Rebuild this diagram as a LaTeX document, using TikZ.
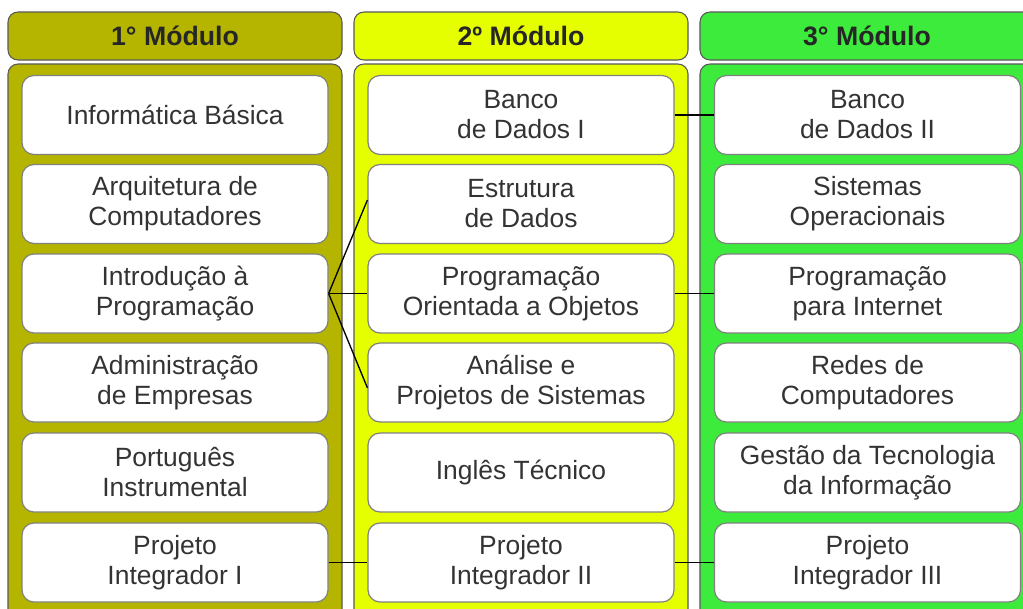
\documentclass[tikz,border=0pt]{standalone}
\usepackage{fontspec}
\setmainfont{Liberation Sans}
\usetikzlibrary{positioning}
\definecolor{modone}{RGB}{181,181,0}
\definecolor{modtwo}{RGB}{230,255,0}
\definecolor{modthree}{RGB}{60,235,60}

\begin{document}
\begin{tikzpicture}[x=0.75pt, y=-0.75pt,
    panel/.style={draw=black!65, line width=0.8pt, rounded corners=7.5pt},
    head/.style={panel, minimum width=250.5pt, minimum height=36pt, inner sep=0pt,
        font=\fontsize{20}{23}\selectfont\bfseries, text=black!85},
    subj/.style={draw=black!50, fill=white, line width=0.9pt, rounded corners=9pt,
        minimum width=229.5pt, minimum height=59.25pt, inner sep=0pt, align=center,
        font=\fontsize{19.8}{22.5}\selectfont, text=black!80},
    link/.style={line width=1pt}
]
\clip (0,0) rectangle (1023,608);
\fill[white] (0,0) rectangle (1023,608);

% 1st module
\node[head, fill=modone] (h1) at (175, 36) {1° Módulo};
\draw[panel, fill=modone] (8, 64) rectangle (342, 640);

\node[subj] (info) at (175, 115) {Informática Básica};
\node[subj] (arq) at (175, 204) {Arquitetura de\\Computadores};
\node[subj] (intro) at (175, 293.5) {Introdução à\\Programação};
\node[subj] (adm) at (175, 382.5) {Administração\\de Empresas};
\node[subj] (port) at (175, 472.5) {Português\\Instrumental};
\node[subj] (pi1) at (175, 562.5) {Projeto\\Integrador I};

% 2nd module
\node[head, fill=modtwo] (h2) at (521, 36) {2º Módulo};
\draw[panel, fill=modtwo] (354, 64) rectangle (688, 640);

\node[subj] (bd1) at (521, 115) {Banco\\de Dados I};
\node[subj] (est) at (521, 204) {Estrutura\\de Dados};
\node[subj] (poo) at (521, 293.5) {Programação\\Orientada a Objetos};
\node[subj] (aps) at (521, 382.5) {Análise e\\Projetos de Sistemas};
\node[subj] (ingl) at (521, 472.5) {Inglês Técnico};
\node[subj] (pi2) at (521, 562.5) {Projeto\\Integrador II};

% 3rd module
\node[head, fill=modthree] (h3) at (867, 36) {3° Módulo};
\draw[panel, fill=modthree] (700, 64) rectangle (1040, 640);

\node[subj] (bd2) at (867.5, 115) {Banco\\de Dados II};
\node[subj] (so) at (867.5, 204) {Sistemas\\Operacionais};
\node[subj] (pinet) at (867.5, 293.5) {Programação\\para Internet};
\node[subj] (redes) at (867.5, 382.5) {Redes de\\Computadores};
\node[subj] (gti) at (867.5, 472.5) {Gestão da Tecnologia\\da Informação};
\node[subj] (pi3) at (867.5, 562.5) {Projeto\\Integrador III};

% prerequisites
\draw[link] (intro.east) -- ([yshift=3pt]est.west);
\draw[link] (intro.east) -- (poo.west);
\draw[link] (intro.east) -- ([yshift=-4pt]aps.west);
\draw[link] (bd1) -- (bd2);
\draw[link] (poo) -- (pinet);
\draw[link] (pi1) -- (pi2);
\draw[link] (pi2) -- (pi3);
\end{tikzpicture}
\end{document}
